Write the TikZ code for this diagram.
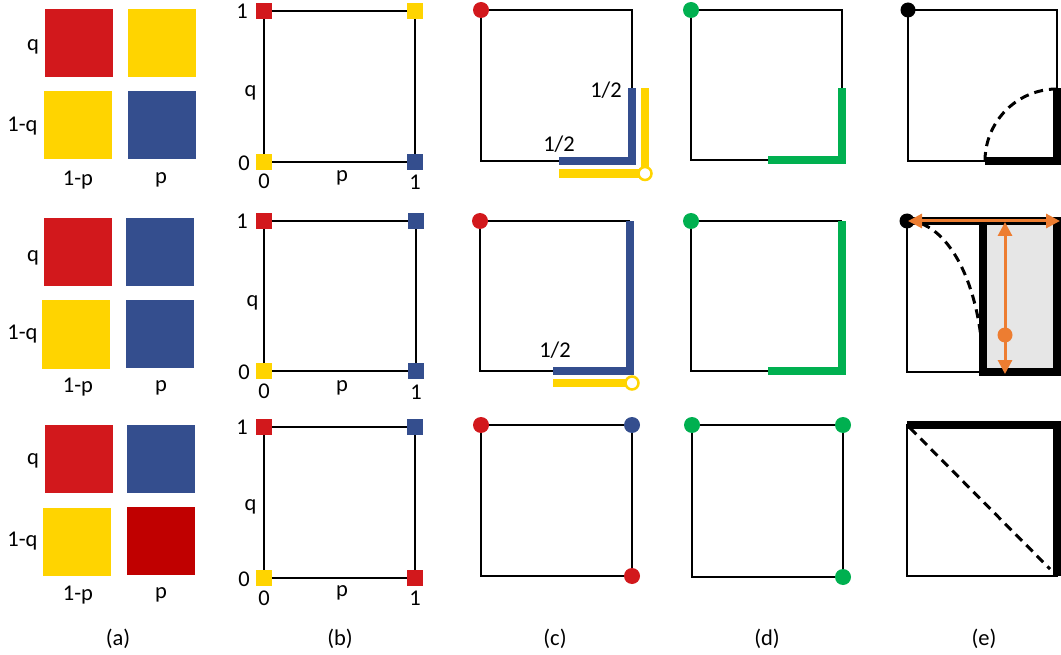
\documentclass[tikz,border=0pt]{standalone}
\usepackage{fontspec}
\setmainfont{Carlito}
\usetikzlibrary{arrows.meta}
\definecolor{cred}{HTML}{D2181C}
\definecolor{cdred}{HTML}{C00000}
\definecolor{cyel}{HTML}{FFD400}
\definecolor{cblue}{HTML}{344E8E}
\definecolor{cgreen}{HTML}{00B050}
\definecolor{corange}{HTML}{ED7D31}
\definecolor{cgrey}{HTML}{E6E6E6}
\begin{document}
\begin{tikzpicture}[x=1pt,y=-1pt,
  lbl/.style={font=\fontsize{22.5}{27}\selectfont, inner sep=0pt},
  cell/.style={minimum width=68pt,minimum height=68pt,inner sep=0pt,draw=none},
  mk/.style={minimum size=16pt,inner sep=0pt,draw=none},
  dot/.style={circle,minimum size=16pt,inner sep=0pt,draw=none},
  bdot/.style={circle,minimum size=15pt,inner sep=0pt,draw=none,fill=black},
  ring/.style={circle,minimum size=13pt,inner sep=0pt,draw=cyel,fill=white,line width=2.5pt},
  frame/.style={draw=black,line width=2.8pt},
  band/.style={line width=8.5pt,line join=miter},
  heavy/.style={draw=black,line width=8pt,line join=miter},
  dsh/.style={draw=black,line width=3pt,dash pattern=on 9pt off 6pt},
  oarrow/.style={draw=corange,line width=3pt,{Triangle[length=14pt,width=14pt]}-{Triangle[length=14pt,width=14pt]}}]
\useasboundingbox (0,0) rectangle (1061,655);

% ---------------- column (a)
\node[cell,fill=cred]  (a1rq) at (78.5,43) {};
\node[cell,fill=cyel]  (a1yq) at (161.5,43) {};
\node[cell,fill=cyel]  (a1yl) at (78,125.5) {};
\node[cell,fill=cblue] (a1bl) at (161.5,125) {};
\node[lbl] (a1q)  at (33,46.5) {q};
\node[lbl] (a1nq) at (22.5,126.5) {1-q};
\node[lbl] (a1np) at (78,180) {1-p};
\node[lbl] (a1p)  at (161,180) {p};

\node[cell,fill=cred]  (a2rq) at (78,252) {};
\node[cell,fill=cblue] (a2bq) at (160,252) {};
\node[cell,fill=cyel]  (a2yl) at (76,334.5) {};
\node[cell,fill=cblue] (a2bl) at (160,334) {};
\node[lbl] (a2q)  at (33,257.5) {q};
\node[lbl] (a2nq) at (22.5,334.5) {1-q};
\node[lbl] (a2np) at (78,387.5) {1-p};
\node[lbl] (a2p)  at (161,387.5) {p};

\node[cell,fill=cred]  (a3rq) at (78.5,459) {};
\node[cell,fill=cblue] (a3bq) at (161,459) {};
\node[cell,fill=cyel]  (a3yl) at (77,542) {};
\node[cell,fill=cdred] (a3dl) at (161,541) {};
\node[lbl] (a3q)  at (33,460.5) {q};
\node[lbl] (a3nq) at (22.5,541) {1-q};
\node[lbl] (a3np) at (78,595) {1-p};
\node[lbl] (a3p)  at (161,595) {p};

% ---------------- column (b)
\coordinate (b1tl) at (264,11);  \coordinate (b1tr) at (415,11);
\coordinate (b1bl) at (264,162); \coordinate (b1br) at (415,162);
\draw[frame] (b1tl) rectangle (b1br);
\node[mk,fill=cred]  (b1m1) at (b1tl) {};
\node[mk,fill=cyel]  (b1m2) at (b1tr) {};
\node[mk,fill=cyel]  (b1m3) at (b1bl) {};
\node[mk,fill=cblue] (b1m4) at (b1br) {};
\node[lbl,anchor=east] (b1one) at (248,11) {1};
\node[lbl] (b1q) at (250.5,92.5) {q};
\node[lbl,anchor=east] (b1zero) at (250,163) {0};
\node[lbl] (b1z) at (264,181.5) {0};
\node[lbl] (b1p) at (342,177.5) {p};
\node[lbl] (b1o) at (415,182.5) {1};

\coordinate (b2tl) at (264,221);  \coordinate (b2tr) at (416,221);
\coordinate (b2bl) at (264,371);  \coordinate (b2br) at (416,371);
\draw[frame] (b2tl) rectangle (b2br);
\node[mk,fill=cred]  (b2m1) at (b2tl) {};
\node[mk,fill=cblue] (b2m2) at (b2tr) {};
\node[mk,fill=cyel]  (b2m3) at (b2bl) {};
\node[mk,fill=cblue] (b2m4) at (b2br) {};
\node[lbl,anchor=east] (b2one) at (248,221) {1};
\node[lbl] (b2q) at (252.5,302.5) {q};
\node[lbl,anchor=east] (b2zero) at (250,372) {0};
\node[lbl] (b2z) at (264,391.5) {0};
\node[lbl] (b2p) at (342,387.5) {p};
\node[lbl] (b2o) at (416,392.5) {1};

\coordinate (b3tl) at (264,427);  \coordinate (b3tr) at (415,427);
\coordinate (b3bl) at (264,578);  \coordinate (b3br) at (415,578);
\draw[frame] (b3tl) rectangle (b3br);
\node[mk,fill=cred]  (b3m1) at (b3tl) {};
\node[mk,fill=cblue] (b3m2) at (b3tr) {};
\node[mk,fill=cyel]  (b3m3) at (b3bl) {};
\node[mk,fill=cred]  (b3m4) at (b3br) {};
\node[lbl,anchor=east] (b3one) at (248,427) {1};
\node[lbl] (b3q) at (250.5,507) {q};
\node[lbl,anchor=east] (b3zero) at (250,579) {0};
\node[lbl] (b3z) at (264,598) {0};
\node[lbl] (b3p) at (342,593) {p};
\node[lbl] (b3o) at (415,598) {1};

% ---------------- column (c)
\coordinate (c1tl) at (481,10);  \coordinate (c1tr) at (632,10);
\coordinate (c1bl) at (481,161); \coordinate (c1br) at (632,161);
\coordinate (c1h) at (559,161);  \coordinate (c1v) at (632,88);
\coordinate (c1yh) at (559,173.5); \coordinate (c1yc) at (645,173.5); \coordinate (c1yv) at (645,88);
\draw[frame] (c1v) -- (c1tr) -- (c1tl) -- (c1bl) -- (c1h);
\draw[band,cblue] (c1h) -- (c1br) -- (c1v);
\draw[band,cyel] (c1yh) -- (c1yc) -- (c1yv);
\node[ring] (c1ring) at (c1yc) {};
\node[dot,fill=cred] (c1d) at (c1tl) {};
\node[lbl] (c1l1) at (606,90) {1/2};
\node[lbl] (c1l2) at (559,144.5) {1/2};

\coordinate (c2tl) at (480,221);  \coordinate (c2tr) at (630,221);
\coordinate (c2bl) at (480,371);  \coordinate (c2br) at (630,371);
\coordinate (c2h) at (553,371);
\coordinate (c2yh) at (553,383); \coordinate (c2yc) at (632,383);
\draw[frame] (c2tr) -- (c2tl) -- (c2bl) -- (c2h);
\draw[band,cblue] (c2h) -- (c2br) -- (c2tr);
\draw[band,cyel] (c2yh) -- (c2yc);
\node[ring] (c2ring) at (c2yc) {};
\node[dot,fill=cred] (c2d) at (c2tl) {};
\node[lbl] (c2l) at (555,350) {1/2};

\coordinate (c3tl) at (481,425);  \coordinate (c3tr) at (632,425);
\coordinate (c3bl) at (481,576);  \coordinate (c3br) at (632,576);
\draw[frame] (c3tl) rectangle (c3br);
\node[dot,fill=cred]  (c3d1) at (c3tl) {};
\node[dot,fill=cblue] (c3d2) at (c3tr) {};
\node[dot,fill=cred]  (c3d3) at (c3br) {};

% ---------------- column (d)
\coordinate (d1tl) at (691,10);  \coordinate (d1tr) at (842,10);
\coordinate (d1bl) at (691,160); \coordinate (d1br) at (842,160);
\coordinate (d1h) at (768,160);  \coordinate (d1v) at (842,88);
\draw[frame] (d1v) -- (d1tr) -- (d1tl) -- (d1bl) -- (d1h);
\draw[band,cgreen] (d1h) -- (d1br) -- (d1v);
\node[dot,fill=cgreen] (d1d) at (d1tl) {};

\coordinate (d2tl) at (691,221);  \coordinate (d2tr) at (842,221);
\coordinate (d2bl) at (691,371);  \coordinate (d2br) at (842,371);
\coordinate (d2h) at (768,371);
\draw[frame] (d2tr) -- (d2tl) -- (d2bl) -- (d2h);
\draw[band,cgreen] (d2h) -- (d2br) -- (d2tr);
\node[dot,fill=cgreen] (d2d) at (d2tl) {};

\coordinate (d3tl) at (692,425);  \coordinate (d3tr) at (843,425);
\coordinate (d3bl) at (692,577);  \coordinate (d3br) at (843,577);
\draw[frame] (d3tl) rectangle (d3br);
\node[dot,fill=cgreen] (d3d1) at (d3tl) {};
\node[dot,fill=cgreen] (d3d2) at (d3tr) {};
\node[dot,fill=cgreen] (d3d3) at (d3br) {};

% ---------------- column (e)
\coordinate (e1tl) at (908,10);  \coordinate (e1tr) at (1057,10);
\coordinate (e1bl) at (908,161); \coordinate (e1br) at (1057,161);
\coordinate (e1h) at (985,161);  \coordinate (e1v) at (1057,88);
\draw[frame] (e1tl) rectangle (e1br);
\draw[dsh] plot[domain=0:90,samples=40,smooth] ({1057-72*cos(\x)},{161-72*sin(\x)});
\draw[heavy] (e1h) -- (e1br) -- (e1v);
\node[bdot] (e1d) at (e1tl) {};

\coordinate (e2tl) at (907,221);  \coordinate (e2tr) at (1057,221);
\coordinate (e2bl) at (907,372);  \coordinate (e2br) at (1057,372);
\coordinate (e2gt) at (983,221);  \coordinate (e2gb) at (983,372);
\fill[cgrey] (e2gt) rectangle (e2br);
\draw[frame] (e2tl) rectangle (e2br);
\draw[dsh] plot[domain=0:90,samples=40,smooth] ({907+76*sin(\x)},{372-151*cos(\x)});
\draw[heavy] (e2tl) -- (e2tr) -- (e2br) -- (e2gb) -- (e2gt);
\node[bdot] (e2d) at (e2tl) {};
\coordinate (e2al) at (908,221); \coordinate (e2ar) at (1060,221);
\coordinate (e2vt) at (1005,222); \coordinate (e2vb) at (1005,374);
\draw[oarrow] (e2al) -- (e2ar);
\draw[oarrow] (e2vt) -- (e2vb);
\node[circle,minimum size=15pt,inner sep=0pt,fill=corange] (e2od) at (1005,335) {};

\coordinate (e3tl) at (907,425);  \coordinate (e3tr) at (1057,425);
\coordinate (e3bl) at (907,576);  \coordinate (e3br) at (1057,576);
\draw[frame] (e3tl) rectangle (e3br);
\draw[heavy] (e3tl) -- (e3tr) -- (e3br);
\coordinate (e3ds) at (910,428); \coordinate (e3de) at (1050,569);
\draw[dsh] (e3ds) -- (e3de);

% ---------------- captions
\node[lbl] (capa) at (118,638.5) {(a)};
\node[lbl] (capb) at (340,638.5) {(b)};
\node[lbl] (capc) at (555,638.5) {(c)};
\node[lbl] (capd) at (767,638.5) {(d)};
\node[lbl] (cape) at (984,638.5) {(e)};
\end{tikzpicture}
\end{document}
